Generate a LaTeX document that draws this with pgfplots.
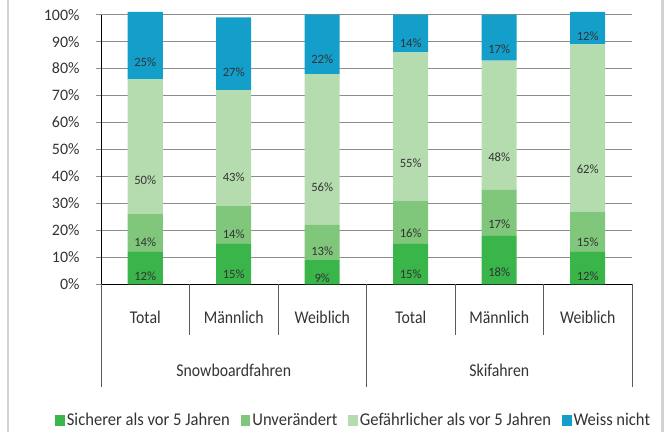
\documentclass[border=0pt]{standalone}
\usepackage{pgfplots}
\pgfplotsset{compat=1.18}
\usepackage{fontspec}
\setmainfont{Carlito}
\newfontfamily\condfont[FakeStretch=0.88]{Carlito}
\newfontfamily\legfont[FakeStretch=0.925]{Carlito}

\definecolor{safer}{RGB}{58,181,74}
\definecolor{same}{RGB}{128,199,123}
\definecolor{riskier}{RGB}{181,220,174}
\definecolor{unknown}{RGB}{19,159,202}
\definecolor{gridgray}{RGB}{140,140,140}
\definecolor{sepgray}{RGB}{90,90,90}
\definecolor{framegray}{RGB}{210,210,210}
\definecolor{textgray}{RGB}{51,51,51}

% move each value label from the top of its segment to the middle
% (the shift is applied twice to nodes near coords, hence a quarter of 2.696bp)
\pgfplotsset{
  segment offset/.code={%
    \pgfkeys{/pgf/fpu=true,/pgf/fpu/output format=fixed}%
    \pgfmathsetmacro\segmentoffset{\pgfplotspointmeta*0.674}%
    \pgfkeys{/pgf/fpu=false}%
  },
  labels in segments/.style={
    point meta=rawy,
    nodes near coords={\pgfmathprintnumber[assume math mode=true]{\pgfplotspointmeta}\%},
    nodes near coords align={center},
    every node near coord/.append style={
      /pgfplots/segment offset, yshift=-\segmentoffset bp,
      anchor=center, font=\fontsize{12.7}{14}\selectfont, text=textgray},
  },
}
\tikzset{
  catlabel/.style={anchor=base, font=\condfont\fontsize{18}{20}\selectfont, text=textgray, inner sep=0pt},
  sepline/.style={sepgray, line width=0.8pt},
}

\begin{document}
\begin{tikzpicture}
\useasboundingbox (0,0) rectangle (672bp,432bp);
% side rules of the frame
\fill[framegray] (6.7bp,0) rectangle (9.2bp,432bp);
\fill[framegray] (661bp,0) rectangle (663.5bp,432bp);

% rounded shares add up to 101% in two bars, so the range goes to 101
\begin{axis}[
  at={(101bp,147.7bp)}, anchor=south west,
  width=531bp, height=272.3bp, scale only axis,
  ybar stacked, bar width=35bp,
  xmin=-0.5, xmax=5.5, ymin=0, ymax=101,
  enlarge x limits=false,
  axis x line=bottom, axis y line=left,
  axis line style={black, line width=1pt, -},
  y axis line style={draw=none},
  xtick={0,...,5}, xticklabels={},
  xtick style={draw=none},
  ytick={0,10,...,100},
  yticklabels={0\%,10\%,20\%,30\%,40\%,50\%,60\%,70\%,80\%,90\%,100\%},
  ytick style={gridgray, line width=0.9pt},
  tick align=outside, major tick length=5bp,
  yticklabel style={font=\fontsize{16}{18}\selectfont, text=textgray, anchor=east, xshift=-13bp},
  ymajorgrids, grid style={gridgray, line width=0.9pt},
  clip mode=individual,
  legend columns=4,
  legend cell align=left,
  legend style={draw=none, fill=none, at={(0.476,-0.5)}, anchor=center,
    font=\legfont\fontsize{18}{20}\selectfont, text=textgray,
    /tikz/every even column/.append style={column sep=9bp}},
  legend image code/.code={\fill[#1] (0bp,-5.5bp) rectangle (9.5bp,5.5bp);},
  labels in segments,
]
\addplot[fill=safer, draw=none] coordinates {(0,12) (1,15) (2,9) (3,15) (4,18) (5,12)};
\addplot[fill=same, draw=none] coordinates {(0,14) (1,14) (2,13) (3,16) (4,17) (5,15)};
\addplot[fill=riskier, draw=none] coordinates {(0,50) (1,43) (2,56) (3,55) (4,48) (5,62)};
\addplot[fill=unknown, draw=none] coordinates {(0,25) (1,27) (2,22) (3,14) (4,17) (5,12)};
\legend{Sicherer als vor 5 Jahren, Unverändert, Gefährlicher als vor 5 Jahren, Weiss nicht}

% value axis from 0% to 100%
\draw[black, line width=1pt] (axis cs:-0.5,0) -- (axis cs:-0.5,100);

% category separators below the axis
\draw[sepline] (axis cs:0.5,0) -- (axis cs:0.5,-18.8);
\draw[sepline] (axis cs:1.5,0) -- (axis cs:1.5,-18.8);
\draw[sepline] (axis cs:3.5,0) -- (axis cs:3.5,-18.8);
\draw[sepline] (axis cs:4.5,0) -- (axis cs:4.5,-18.8);
\draw[sepline] (axis cs:-0.5,0) -- (axis cs:-0.5,-38.1);
\draw[sepline] (axis cs:2.5,0) -- (axis cs:2.5,-38.1);
\draw[sepline] (axis cs:5.5,0) -- (axis cs:5.5,-38.1);

% category and group names
\node[catlabel] at (axis cs:0,-14.5) {Total};
\node[catlabel] at (axis cs:1,-14.5) {Männlich};
\node[catlabel] at (axis cs:2,-14.5) {Weiblich};
\node[catlabel] at (axis cs:3,-14.5) {Total};
\node[catlabel] at (axis cs:4,-14.5) {Männlich};
\node[catlabel] at (axis cs:5,-14.5) {Weiblich};
\node[catlabel] at (axis cs:1,-34.3) {Snowboardfahren};
\node[catlabel] at (axis cs:4,-34.3) {Skifahren};
\end{axis}
\end{tikzpicture}
\end{document}
